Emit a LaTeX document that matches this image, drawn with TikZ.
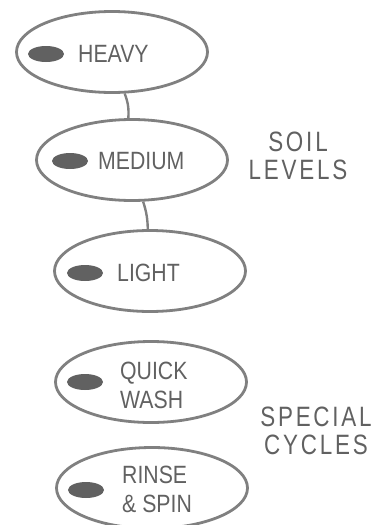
\documentclass[tikz,border=0pt]{standalone}
\usepackage{fontspec}
\setmainfont{Liberation Sans}
\newfontfamily\panelfont[FakeStretch=0.85]{Liberation Sans}
\newfontfamily\groupfont[FakeStretch=0.8,LetterSpace=10]{Liberation Sans}
\usetikzlibrary{shapes.geometric}

\begin{document}
\begin{tikzpicture}[x=1pt, y=-1pt,
        pad/.style={draw=black!50, line width=2.8pt, ellipse, minimum width=191pt, minimum height=81pt, inner sep=0pt},
        lamp/.style={fill=black!62, ellipse, minimum width=36pt, minimum height=16pt, inner sep=0pt},
        key/.style={anchor=west, text=black!62, font=\panelfont\fontsize{25}{29}\selectfont, align=left, inner sep=0pt},
        group/.style={text=black!62, font=\groupfont\fontsize{28}{28}\selectfont, align=center, inner sep=0pt},
        link/.style={draw=black!50, line width=2.4pt}]
        \useasboundingbox (0,0) rectangle (375,525);

        % soil level pads
        \node [pad] (heavy) at (112,52) {};
        \node [lamp] (heavy lamp) at (46,54) {};
        \node [key] (heavy text) at (78,54) {HEAVY};

        \node [pad] (medium) at (132,160) {};
        \node [lamp] (medium lamp) at (70,161) {};
        \node [key] (medium text) at (98,161) {MEDIUM};

        \node [pad] (light) at (150,271) {};
        \node [lamp] (light lamp) at (85,273) {};
        \node [key] (light text) at (117,273) {LIGHT};

        \draw [link] (heavy.-73) to [bend left=12] (medium.95);
        \draw [link] (medium.-75) to [bend left=8] (light.93);

        \node [group] (soil) at (298,156) {SOIL\\LEVELS};

        % special cycle pads
        \node [pad] (quick) at (151,382) {};
        \node [lamp] (quick lamp) at (85,382) {};
        \node [key] (quick text) at (120,385) {QUICK\\WASH};

        \node [pad] (rinse) at (152,488) {};
        \node [lamp] (rinse lamp) at (86,490) {};
        \node [key] (rinse text) at (122,489) {RINSE\\\& SPIN};

        \node [group] (special) at (316,431) {SPECIAL\\CYCLES};
\end{tikzpicture}
\end{document}
